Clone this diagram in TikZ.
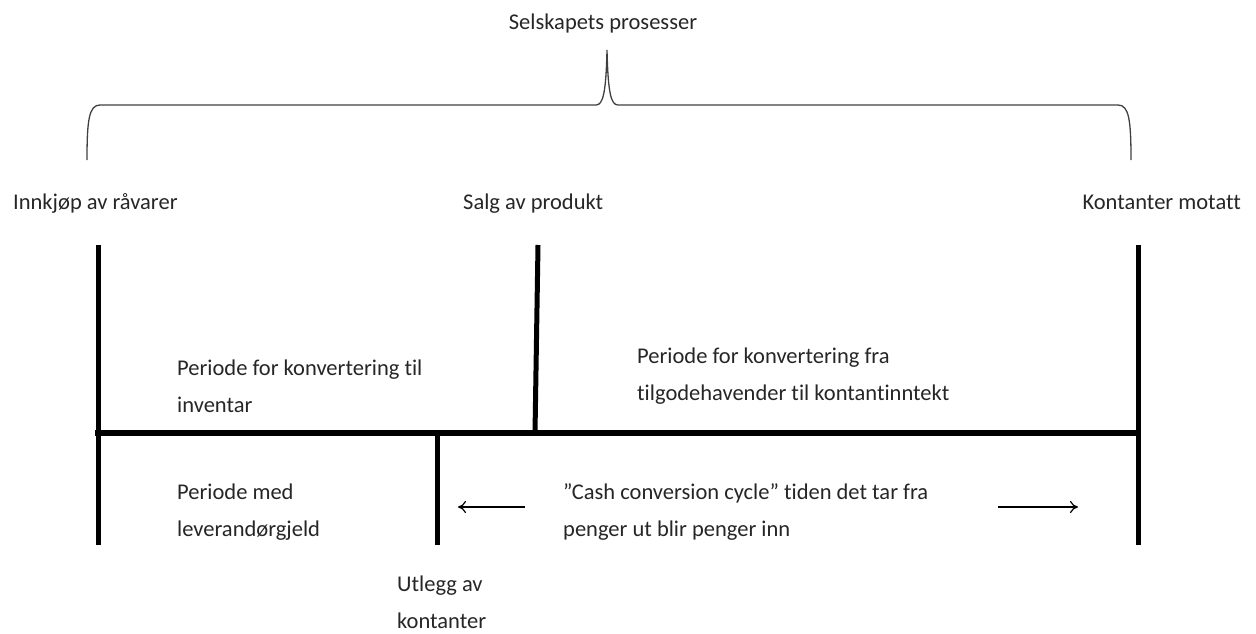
\documentclass[tikz,border=0pt]{standalone}
\usepackage{fontspec}
\setmainfont{Carlito}[RawFeature=-liga]
\usetikzlibrary{arrows.meta}
% stacked lines whose baseline is the first line
\newcommand\lines[1]{\begin{tabular}[t]{@{}l@{}}#1\end{tabular}}
\begin{document}
\begin{tikzpicture}[x=1pt,y=-1pt,
  lbl/.style={inner sep=0pt,text=black!85,font=\fontsize{22.5}{37}\selectfont},
  blk/.style={lbl,anchor=base west},
  bar/.style={line width=5pt},
  axis/.style={line width=6pt},
  brace/.style={line width=1.3pt,black!75},
  flow/.style={line width=1.2pt,-{To[length=8pt,width=12pt]}}]
\useasboundingbox (0,0) rectangle (1256,634);

% timeline skeleton
\coordinate (s0) at (98,245);   \coordinate (s1) at (98,545);
\coordinate (m0) at (538,245);  \coordinate (m1) at (535,433);
\coordinate (e0) at (1138,245); \coordinate (e1) at (1138,545);
\coordinate (h0) at (95,433);   \coordinate (h1) at (1141,433);
\coordinate (u0) at (437,433);  \coordinate (u1) at (437,545);
\draw[bar] (s0) -- (s1);
\draw[bar] (m0) -- (m1);
\draw[bar] (e0) -- (e1);
\draw[bar] (u0) -- (u1);
\draw[axis] (h0) -- (h1);

% brace over the whole process
\coordinate (bl) at (87,160);
\coordinate (br) at (1131,160);
\coordinate (bt) at (607,50);
\draw[brace] (bl) .. controls (87,120) and (89,105) .. (100,105)
  -- (596,105) .. controls (603,105) and (606,93) .. (bt)
  .. controls (608,93) and (611,105) .. (618,105)
  -- (1118,105) .. controls (1129,105) and (1131,120) .. (br);

% labels
\node[lbl,anchor=base] (title) at (603,30) {Selskapets prosesser};
\node[blk] (innkjop) at (13,209) {Innkjøp av råvarer};
\node[blk] (salg) at (463,209) {Salg av produkt};
\node[lbl,anchor=base east] (kontanter) at (1241,209) {Kontanter motatt};

\node[blk] (inv) at (177,375) {\lines{Periode for konvertering til\\inventar}};
\node[blk] (tilg) at (637,363) {\lines{Periode for konvertering fra\\tilgodehavender til kontantinntekt}};
\node[blk] (lev) at (177,499) {\lines{Periode med\\leverandørgjeld}};
\node[blk] (ccc) at (563,499) {\lines{"Cash conversion cycle" tiden det tar fra\\penger ut blir penger inn}};
\node[blk] (utlegg) at (397,591) {\lines{Utlegg av\\kontanter}};

% direction arrows of the cycle
\coordinate (la0) at (525,507); \coordinate (la1) at (458,507);
\coordinate (ra0) at (998,507); \coordinate (ra1) at (1078,507);
\draw[flow] (la0) -- (la1);
\draw[flow] (ra0) -- (ra1);
\end{tikzpicture}
\end{document}
